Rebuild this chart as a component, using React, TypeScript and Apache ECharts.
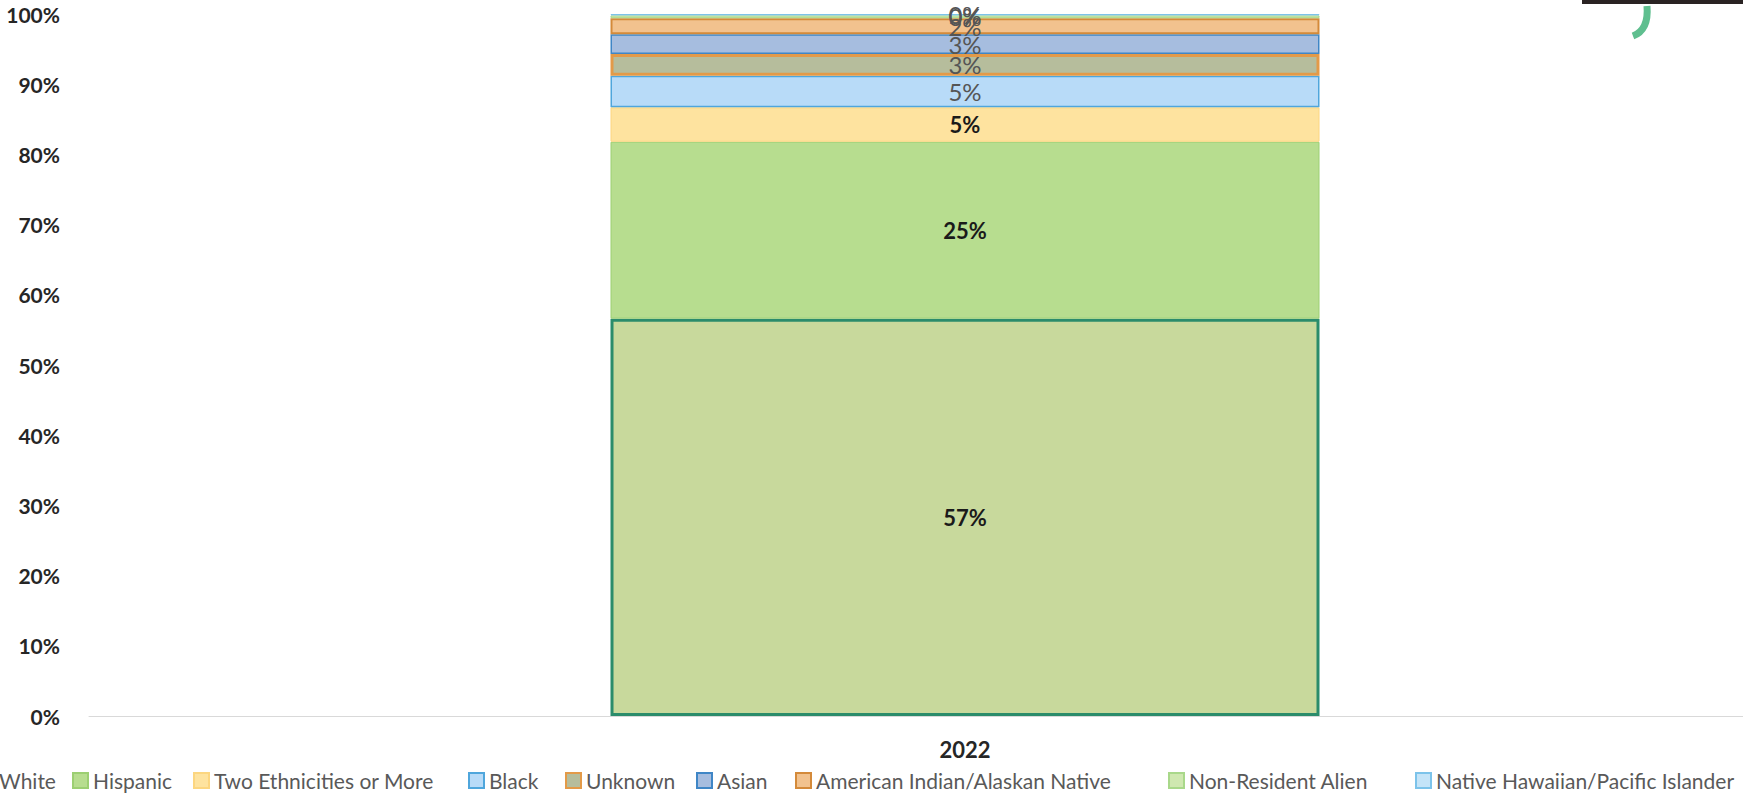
import React, { useEffect, useRef } from "react";
import * as echarts from "echarts";

const categories = ["2022"];
const seriesNames = [
  "White",
  "Hispanic",
  "Two Ethnicities or More",
  "Black",
  "Unknown",
  "Asian",
  "American Indian/Alaskan Native",
  "Non-Resident Alien",
  "Native Hawaiian/Pacific Islander",
];
const seriesValues = [56.6, 25.2, 4.9, 4.5, 3.1, 2.8, 2.3, 0.4, 0.2];
const yTicks = { min: 0, max: 100, interval: 10 };

// styles (not data)
const fills = ["#c8d99c", "#b7dd8f", "#fee39f", "#b8dbf8", "#b6bd9c", "#a6bddf", "#f2c28e", "#cfe8b0", "#c4e4f8"];
const borders = ["#2b8c6b", "#9ccf72", "#fcd680", "#4fa6dc", "#e39a48", "#3f86c6", "#d48a3a", "#a9d88a", "#7cc3ea"];
const borderWidths = [3, 1, 1, 1.5, 3, 1.5, 2, 1, 1];
const boldLabel = [true, true, true, false, false, false, false, false, false];
const legendLeft = [-22, 72, 193, 468, 565, 696, 795, 1168, 1415];

export default function App() {
  const ref = useRef<HTMLDivElement>(null);
  useEffect(() => {
    if (!ref.current) return;
    const chart = echarts.init(ref.current, null, { renderer: "svg" });
    const font = "Lato";
    const series = seriesNames.map((name, i) => ({
      name,
      type: "bar",
      stack: "total",
      barWidth: 709,
      data: [seriesValues[i]],
      itemStyle: { color: fills[i], borderColor: borders[i], borderWidth: borderWidths[i] },
      label: {
        show: true,
        position: "inside",
        formatter: (p: any) => Math.round(p.value) + "%",
        fontFamily: font,
        fontSize: boldLabel[i] ? 22 : 24,
        fontWeight: boldLabel[i] ? "bold" : "normal",
        color: boldLabel[i] ? "#1a1a1a" : "#555555",
      },
    }));
    const legends = seriesNames.map((name, i) => ({
      show: true,
      data: [name],
      left: legendLeft[i],
      top: 770,
      padding: 0,
      itemWidth: 15,
      itemHeight: 15,
      itemGap: 0,
      icon: "rect",
      textStyle: { fontFamily: font, fontSize: 21, color: "#595959" },
    }));
    chart.setOption({
      animation: false,
      backgroundColor: "#ffffff",
      legend: legends,
      grid: { left: 89, right: -98, top: 14, bottom: 78, containLabel: false, outerBoundsMode: "none" },
      xAxis: {
        type: "category",
        data: categories,
        axisLine: { show: true, lineStyle: { color: "#d9d9d9", width: 1 } },
        axisTick: { show: false },
        axisLabel: { fontFamily: font, fontSize: 22, fontWeight: "bold", color: "#262626", margin: 22 },
      },
      yAxis: {
        type: "value",
        min: yTicks.min,
        max: yTicks.max,
        interval: yTicks.interval,
        axisLine: { show: false },
        axisTick: { show: false },
        splitLine: { show: false },
        axisLabel: {
          formatter: "{value}%",
          fontFamily: font,
          fontSize: 21,
          fontWeight: "bold",
          color: "#262626",
          margin: 29,
        },
      },
      graphic: [
        { type: "rect", shape: { x: 1582, y: 0, width: 170, height: 4 }, style: { fill: "#2a2323" } },
        {
          type: "bezierCurve",
          shape: { x1: 1647, y1: 6, cpx1: 1649, cpy1: 30, x2: 1633, y2: 36 },
          style: { stroke: "#5fbf8f", lineWidth: 7, fill: "none" },
        },
      ],
      series,
    });
    return () => chart.dispose();
  }, []);
  return (
    <div
      ref={ref}
      style={{ position: "absolute", left: 0, top: 0, width: 1743, height: 794, background: "#fff" }}
    />
  );
}
